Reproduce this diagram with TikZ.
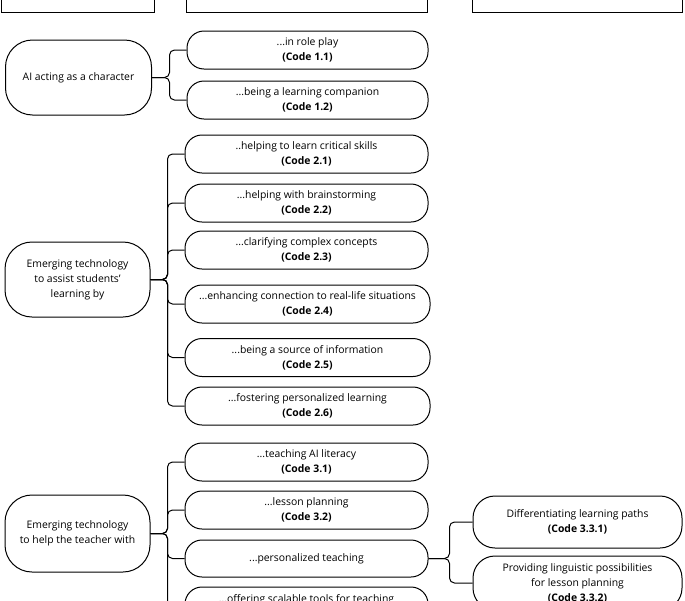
\documentclass[tikz,border=0pt]{standalone}
\usepackage{fontspec}
\setmainfont{Open Sans}
\begin{document}
\begin{tikzpicture}[x=1pt,y=-1pt,
  every node/.style={font=\fontsize{10.4}{15}\selectfont, align=center, inner sep=0pt},
  headbox/.style={draw, line width=1pt, minimum height=30pt},
  rootbox/.style={draw, line width=1pt, rounded corners=27pt, minimum width=146pt},
  childbox/.style={draw, line width=1pt, rounded corners=17pt, minimum width=242pt, minimum height=38pt},
  leafbox/.style={draw, line width=1pt, rounded corners=22pt, minimum width=209pt},
  link/.style={line width=1pt, rounded corners=5pt}]
\useasboundingbox (0,0) rectangle (685,600);

% header boxes (cut off at the top)
\node[headbox, minimum width=153pt] (H1) at (77.5,-3) {};
\node[headbox, minimum width=241pt] (H2) at (306.5,-3) {};
\node[headbox, minimum width=210pt] (H3) at (577,-3) {};

% row 1
\node[rootbox, minimum height=75pt] (L1) at (78.5,77.5) {AI acting as a character};
\node[childbox, minimum width=241pt] (C11) at (307.5,50) {...in role play\\\textbf{(Code 1.1)}};
\node[childbox, minimum width=241pt] (C12) at (307.5,100) {...being a learning companion\\\textbf{(Code 1.2)}};

% row 2
\node[rootbox, minimum height=75pt, minimum width=145pt] (L2) at (77.5,279.5) {Emerging technology\\to assist students’\\learning by};
\node[childbox, minimum width=243pt] (C21) at (306.5,154) {..helping to learn critical skills\\\textbf{(Code 2.1)}};
\node[childbox, minimum width=243pt] (C22) at (306.5,203) {...helping with brainstorming\\\textbf{(Code 2.2)}};
\node[childbox, minimum width=243pt] (C23) at (306.5,250) {...clarifying complex concepts\\\textbf{(Code 2.3)}};
\node[childbox, minimum width=245pt] (C24) at (307.5,304) {...enhancing connection to real-life situations\\\textbf{(Code 2.4)}};
\node[childbox, minimum width=245pt] (C25) at (307.5,357.5) {...being a source of information\\\textbf{(Code 2.5)}};
\node[childbox, minimum width=245pt] (C26) at (307.5,406) {...fostering personalized learning\\\textbf{(Code 2.6)}};

% row 3
\node[rootbox, minimum height=77pt, minimum width=145pt] (L3) at (77.5,533.5) {Emerging technology\\to help the teacher with};
\node[childbox, minimum width=243pt] (C31) at (306.5,462) {...teaching AI literacy\\\textbf{(Code 3.1)}};
\node[childbox, minimum width=243pt] (C32) at (306.5,510) {...lesson planning\\\textbf{(Code 3.2)}};
\node[childbox, minimum width=243pt, minimum height=37pt] (C33) at (306.5,558.5) {...personalized teaching};
\node[childbox, minimum width=243pt] (C34) at (306.5,606) {...offering scalable tools for teaching\\~};

% third level
\node[leafbox, minimum height=52pt] (D1) at (577.5,522) {Differentiating learning paths\\\textbf{(Code 3.3.1)}};
\node[leafbox, minimum height=54pt] (D2) at (577.5,583) {Providing linguistic possibilities\\for lesson planning\\\textbf{(Code 3.3.2)}};

% connectors
\foreach \c in {C11,C12} \draw[link] (L1.east) -| ([xshift=-17pt]\c.west) -- (\c.west);
\foreach \c in {C21,C22,C23,C24,C25,C26} \draw[link] (L2.east) -| ([xshift=-17pt]\c.west) -- (\c.west);
\foreach \c in {C31,C32,C33,C34} \draw[link] (L3.east) -| ([xshift=-17pt]\c.west) -- (\c.west);
\foreach \c in {D1,D2} \draw[link] (C33.east) -| ([xshift=-23pt]\c.west) -- (\c.west);
\end{tikzpicture}
\end{document}
